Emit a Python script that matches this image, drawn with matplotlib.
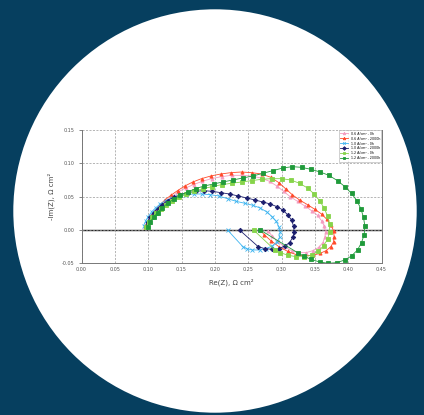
import matplotlib
matplotlib.use("Agg")
import matplotlib.pyplot as plt
from matplotlib.patches import Ellipse

labels = ["0.6 A/cm² - 0h", "0.6 A/cm² - 2000h", "1.0 A/cm² - 0h",
          "1.0 A/cm² - 2000h", "1.2 A/cm² - 0h", "1.2 A/cm² - 2000h"]

pink_x = [0.096,0.100,0.105,0.111,0.118,0.126,0.135,0.145,0.156,0.168,0.181,0.195,0.210,0.225,0.240,0.255,0.269,0.282,0.293,0.303,0.313,0.324,0.335,0.345,0.354,0.360,0.364,0.366,0.365,0.362,0.356,0.347,0.337,0.326,0.315,0.304,0.294,0.286,0.280]
pink_y = [0.005,0.013,0.021,0.029,0.036,0.043,0.050,0.057,0.063,0.068,0.073,0.077,0.080,0.082,0.082,0.081,0.078,0.073,0.066,0.058,0.050,0.043,0.036,0.029,0.022,0.014,0.006,-0.003,-0.011,-0.019,-0.026,-0.031,-0.034,-0.034,-0.031,-0.025,-0.017,-0.009,-0.002]

red_x = [0.095,0.099,0.104,0.110,0.117,0.125,0.134,0.144,0.155,0.167,0.180,0.194,0.209,0.224,0.240,0.255,0.270,0.284,0.296,0.306,0.316,0.327,0.339,0.350,0.360,0.368,0.374,0.378,0.379,0.378,0.374,0.367,0.358,0.347,0.335,0.322,0.309,0.296,0.284,0.274,0.268]
red_y = [0.005,0.013,0.021,0.029,0.037,0.045,0.052,0.059,0.066,0.072,0.077,0.081,0.084,0.086,0.087,0.086,0.084,0.079,0.071,0.062,0.053,0.045,0.038,0.031,0.024,0.016,0.008,-0.001,-0.010,-0.018,-0.025,-0.031,-0.035,-0.038,-0.039,-0.037,-0.032,-0.025,-0.016,-0.007,0.000]

lblue_x = [0.093,0.096,0.100,0.105,0.111,0.118,0.126,0.135,0.145,0.156,0.168,0.180,0.193,0.206,0.219,0.232,0.245,0.257,0.268,0.278,0.286,0.292,0.296,0.298,0.297,0.293,0.286,0.277,0.267,0.256,0.248,0.242,0.219]
lblue_y = [0.006,0.013,0.020,0.027,0.033,0.039,0.044,0.048,0.051,0.053,0.054,0.054,0.053,0.051,0.047,0.043,0.040,0.037,0.033,0.027,0.020,0.013,0.005,-0.003,-0.011,-0.018,-0.024,-0.028,-0.030,-0.030,-0.028,-0.025,0.000]

navy_x = [0.096,0.099,0.103,0.108,0.114,0.121,0.129,0.138,0.148,0.159,0.171,0.183,0.196,0.209,0.222,0.235,0.248,0.260,0.272,0.283,0.293,0.302,0.309,0.315,0.318,0.319,0.317,0.312,0.305,0.296,0.286,0.275,0.265,0.237]
navy_y = [0.005,0.012,0.019,0.026,0.032,0.038,0.044,0.049,0.053,0.056,0.058,0.059,0.058,0.056,0.054,0.051,0.048,0.045,0.042,0.039,0.035,0.030,0.023,0.015,0.006,-0.003,-0.011,-0.019,-0.024,-0.028,-0.029,-0.028,-0.025,0.000]

lgreen_x = [0.097,0.101,0.106,0.112,0.119,0.127,0.136,0.146,0.157,0.169,0.182,0.196,0.210,0.225,0.240,0.255,0.270,0.285,0.300,0.314,0.327,0.339,0.349,0.357,0.364,0.369,0.372,0.372,0.369,0.363,0.355,0.345,0.334,0.322,0.310,0.298,0.290,0.258]
lgreen_y = [0.005,0.012,0.019,0.026,0.032,0.038,0.044,0.049,0.054,0.058,0.062,0.065,0.068,0.070,0.072,0.074,0.076,0.077,0.077,0.075,0.070,0.063,0.054,0.044,0.033,0.021,0.009,-0.003,-0.014,-0.024,-0.032,-0.038,-0.040,-0.040,-0.038,-0.034,-0.030,0.000]

dgreen_x = [0.099,0.103,0.108,0.114,0.121,0.129,0.138,0.148,0.159,0.171,0.184,0.198,0.212,0.227,0.242,0.257,0.272,0.287,0.302,0.316,0.330,0.344,0.358,0.371,0.384,0.395,0.405,0.413,0.419,0.423,0.425,0.424,0.420,0.414,0.405,0.395,0.383,0.370,0.357,0.344,0.333,0.324,0.268]
dgreen_y = [0.005,0.012,0.019,0.026,0.033,0.040,0.046,0.052,0.057,0.062,0.066,0.069,0.072,0.075,0.078,0.081,0.085,0.089,0.093,0.095,0.094,0.091,0.087,0.082,0.074,0.065,0.055,0.044,0.032,0.019,0.006,-0.007,-0.019,-0.030,-0.039,-0.045,-0.049,-0.050,-0.048,-0.044,-0.039,-0.034,0.000]

series = [(pink_x, pink_y, "#f49cc0", "^"),
          (red_x, red_y, "#ff4a2a", "^"),
          (lblue_x, lblue_y, "#3db4f0", "x"),
          (navy_x, navy_y, "#1c1f6e", "D"),
          (lgreen_x, lgreen_y, "#86d44a", "s"),
          (dgreen_x, dgreen_y, "#1f9a3a", "s")]

W, H = 424, 415
fig = plt.figure(figsize=(W/100, H/100), dpi=100)
fig.patch.set_facecolor("#063f5f")
circ = Ellipse((215/W, 1-211/H), 2*201.7/W, 2*201.7/H, transform=fig.transFigure,
               facecolor="white", edgecolor="none", zorder=-10)
fig.patches.append(circ)

ax = fig.add_axes([81.5/W, 1-263.3/H, 300/W, 133.3/H])
ax.set_zorder(5)
ax.set_facecolor("white")
for (xs, ys, c, m), lab in zip(series, labels):
    ax.plot(xs, ys, color=c, lw=0.6, marker=m, ms=2.3, mew=0.6, label=lab)

ax.axhline(0, color="#222222", lw=1.0, zorder=1)
ax.set_xlim(0, 0.45)
ax.set_ylim(-0.05, 0.15)
ax.set_xticks([0.00,0.05,0.10,0.15,0.20,0.25,0.30,0.35,0.40,0.45])
ax.set_yticks([-0.05,0.00,0.05,0.10,0.15])
ax.set_xticklabels(["0.00","0.05","0.10","0.15","0.20","0.25","0.30","0.35","0.40","0.45"])
ax.set_yticklabels(["-0.05","0.00","0.05","0.10","0.15"])
ax.tick_params(labelsize=3.5, colors="#555555", length=2, width=0.5, pad=3)
ax.tick_params(axis="x", length=0)
ax.grid(True, color="#999999", ls=(0, (3, 2)), lw=0.5)
for s in ["left", "bottom", "right"]:
    ax.spines[s].set_color("#777777")
    ax.spines[s].set_linewidth(0.7)
ax.spines["top"].set_visible(False)
ax.set_xlabel("Re(Z), Ω cm²", fontsize=5, color="#444444", labelpad=4)
ax.set_ylabel("-Im(Z), Ω cm²", fontsize=5, color="#444444", labelpad=5)
leg = ax.legend(loc="upper right", fontsize=2.3, frameon=True, borderaxespad=0.1,
                handlelength=2.5, labelspacing=0.3, borderpad=0.4, markerscale=0.8)
leg.get_frame().set_linewidth(0.4)
leg.get_frame().set_edgecolor("#999999")
leg.get_frame().set_boxstyle("square", pad=0)

fig.savefig("out.png", dpi=100, facecolor=fig.get_facecolor())
